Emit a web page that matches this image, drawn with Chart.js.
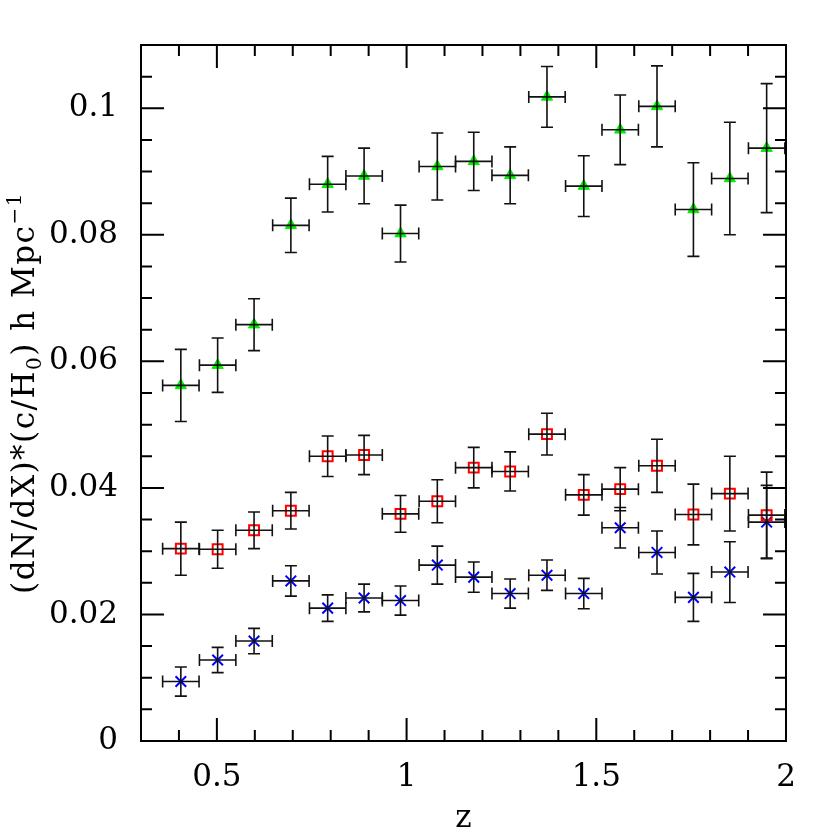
<!DOCTYPE html>
<html>
<head>
<meta charset="utf-8">
<script src="https://cdn.jsdelivr.net/npm/chart.js@4.4.1/dist/chart.umd.min.js"></script>
<style>
  html, body { margin: 0; padding: 0; background: #ffffff; }
  #wrap { width: 830px; height: 830px; }
</style>
</head>
<body>
<div id="wrap"><canvas id="c" width="830" height="830"></canvas></div>
<script>
// ---------- data ----------
const zBins = [0.405, 0.502, 0.598, 0.695, 0.792, 0.888, 0.984, 1.081, 1.177,
               1.273, 1.370, 1.467, 1.563, 1.660, 1.756, 1.852, 1.949];
const zErr = [0.048, 0.048, 0.048, 0.048, 0.048, 0.048, 0.048, 0.048, 0.048,
              0.048, 0.048, 0.048, 0.048, 0.048, 0.048, 0.048, 0.048];

const greenY   = [0.0562, 0.0594, 0.0658, 0.0815, 0.0880, 0.0893, 0.0802, 0.0908, 0.0916,
                  0.0894, 0.1018, 0.0877, 0.0966, 0.1003, 0.0840, 0.0889, 0.0937];
const greenErr = [0.0057, 0.0043, 0.0041, 0.0043, 0.0044, 0.0044, 0.0045, 0.0053, 0.0046,
                  0.0045, 0.0048, 0.0048, 0.0055, 0.0064, 0.0074, 0.0089, 0.0102];

const redY   = [0.0304, 0.0303, 0.0333, 0.0364, 0.0450, 0.0452, 0.0359, 0.0379, 0.0432,
                0.0426, 0.0485, 0.0389, 0.0398, 0.0435, 0.0358, 0.0391, 0.0357];
const redErr = [0.0042, 0.0030, 0.0029, 0.0029, 0.0032, 0.0031, 0.0029, 0.0034, 0.0032,
                0.0031, 0.0033, 0.0032, 0.0034, 0.0042, 0.0048, 0.0059, 0.0068];

const blueY   = [0.0094, 0.0128, 0.0158, 0.0253, 0.0210, 0.0226, 0.0222, 0.0278, 0.0259,
                 0.0233, 0.0262, 0.0233, 0.0337, 0.0298, 0.0227, 0.0267, 0.0346];
const blueErr = [0.0023, 0.0020, 0.0020, 0.0024, 0.0021, 0.0022, 0.0023, 0.0030, 0.0024,
                 0.0023, 0.0024, 0.0024, 0.0032, 0.0034, 0.0038, 0.0048, 0.0058];

const xTickValues = [0.5, 1, 1.5, 2];
const xTickLabels = ['0.5', '1', '1.5', '2'];
const xMinorTicks = [0.4, 0.6, 0.7, 0.8, 0.9, 1.1, 1.2, 1.3, 1.4, 1.6, 1.7, 1.8, 1.9];
const yTickValues = [0, 0.02, 0.04, 0.06, 0.08, 0.1];
const yTickLabels = ['0', '0.02', '0.04', '0.06', '0.08', '0.1'];
const yMinorTicks = [0.005, 0.01, 0.015, 0.025, 0.03, 0.035, 0.045, 0.05, 0.055,
                     0.065, 0.07, 0.075, 0.085, 0.09, 0.095, 0.105];

const xAxisTitle = 'z';
const yTitleParts = [
  { t: '(dN/dX)*(c/H', k: 'n' },
  { t: '0', k: 'sub' },
  { t: ') h Mpc', k: 'n' },
  { t: '\u22121', k: 'sup' }
];

// ---------- helpers ----------
function pts(ys) { return zBins.map((z, i) => ({ x: z, y: ys[i] })); }

const FONT = '"DejaVu Serif", "Liberation Serif", serif';
const FSIZE = 31;

const errorBarPlugin = {
  id: 'errorBars',
  afterDatasetsDraw(chart) {
    const ctx = chart.ctx;
    const xs = chart.scales.x, ys = chart.scales.y;
    const cap = 6;
    ctx.save();
    ctx.strokeStyle = '#111111';
    ctx.lineWidth = 1.6;
    chart.data.datasets.forEach(ds => {
      ds.data.forEach((p, i) => {
        const px = xs.getPixelForValue(p.x);
        const py = ys.getPixelForValue(p.y);
        const x0 = xs.getPixelForValue(p.x - ds.xErr[i]);
        const x1 = xs.getPixelForValue(p.x + ds.xErr[i]);
        const y0 = ys.getPixelForValue(p.y - ds.yErr[i]);
        const y1 = ys.getPixelForValue(p.y + ds.yErr[i]);
        ctx.beginPath();
        ctx.moveTo(x0, py); ctx.lineTo(x1, py);
        ctx.moveTo(x0, py - cap); ctx.lineTo(x0, py + cap);
        ctx.moveTo(x1, py - cap); ctx.lineTo(x1, py + cap);
        ctx.moveTo(px, y0); ctx.lineTo(px, y1);
        ctx.moveTo(px - cap, y0); ctx.lineTo(px + cap, y0);
        ctx.moveTo(px - cap, y1); ctx.lineTo(px + cap, y1);
        ctx.stroke();
      });
    });
    ctx.restore();
  }
};

const framePlugin = {
  id: 'frame',
  beforeDraw(chart) {
    const ctx = chart.ctx;
    ctx.save();
    ctx.fillStyle = '#ffffff';
    ctx.fillRect(0, 0, chart.width, chart.height);
    ctx.restore();
  },
  afterDraw(chart) {
    const ctx = chart.ctx;
    const a = chart.chartArea;
    const xs = chart.scales.x, ys = chart.scales.y;
    const major = 23, minor = 11;
    ctx.save();
    ctx.strokeStyle = '#000000';
    ctx.lineWidth = 2;
    ctx.beginPath();
    ctx.rect(a.left, a.top, a.right - a.left, a.bottom - a.top);
    ctx.stroke();
    ctx.beginPath();
    const xt = (v, len) => {
      const p = xs.getPixelForValue(v);
      ctx.moveTo(p, a.bottom); ctx.lineTo(p, a.bottom - len);
      ctx.moveTo(p, a.top); ctx.lineTo(p, a.top + len);
    };
    const yt = (v, len) => {
      const p = ys.getPixelForValue(v);
      ctx.moveTo(a.left, p); ctx.lineTo(a.left + len, p);
      ctx.moveTo(a.right, p); ctx.lineTo(a.right - len, p);
    };
    xTickValues.forEach(v => xt(v, major));
    xMinorTicks.forEach(v => xt(v, minor));
    yTickValues.forEach(v => yt(v, major));
    yMinorTicks.forEach(v => yt(v, minor));
    ctx.stroke();

    // x axis title
    ctx.fillStyle = '#000000';
    ctx.font = FSIZE + 'px ' + FONT;
    ctx.textAlign = 'center';
    ctx.textBaseline = 'alphabetic';
    ctx.fillText(xAxisTitle, (a.left + a.right) / 2, 827);

    // y axis title (rotated, with sub/superscript)
    const subSize = Math.round(FSIZE * 0.65);
    const spacing = 1.5;
    const segFont = k => (k === 'n' ? FSIZE : subSize) + 'px ' + FONT;
    ctx.letterSpacing = spacing + 'px';
    let total = 0;
    yTitleParts.forEach(s => { ctx.font = segFont(s.k); s.w = ctx.measureText(s.t).width; total += s.w; });
    ctx.translate(34, (a.top + a.bottom) / 2);
    ctx.rotate(-Math.PI / 2);
    ctx.textAlign = 'left';
    let cx = -total / 2;
    yTitleParts.forEach(s => {
      ctx.font = segFont(s.k);
      const dy = s.k === 'sub' ? 7 : (s.k === 'sup' ? -13 : 0);
      ctx.fillText(s.t, cx, dy);
      cx += s.w;
    });
    ctx.restore();
  }
};

new Chart(document.getElementById('c'), {
  type: 'scatter',
  data: {
    datasets: [
      {
        label: 'triangles',
        data: pts(greenY), xErr: zErr, yErr: greenErr,
        pointStyle: 'triangle', pointRadius: 6.5,
        backgroundColor: '#00ee00', borderColor: '#00ee00', borderWidth: 1
      },
      {
        label: 'squares',
        data: pts(redY), xErr: zErr, yErr: redErr,
        pointStyle: 'rect', pointRadius: 7,
        backgroundColor: 'rgba(0,0,0,0)', borderColor: '#ff0000', borderWidth: 2
      },
      {
        label: 'crosses',
        data: pts(blueY), xErr: zErr, yErr: blueErr,
        pointStyle: 'crossRot', pointRadius: 7.5,
        backgroundColor: '#0000ff', borderColor: '#0000ff', borderWidth: 2
      }
    ]
  },
  options: {
    responsive: false,
    devicePixelRatio: 1,
    animation: false,
    events: [],
    layout: { padding: { left: 0, right: 44, top: 45, bottom: 0 } },
    plugins: { legend: { display: false }, tooltip: { enabled: false } },
    scales: {
      x: {
        type: 'linear', min: 0.3, max: 2.0,
        grid: { display: false, drawTicks: false },
        border: { display: false },
        afterBuildTicks: s => { s.ticks = xTickValues.map(v => ({ value: v })); },
        afterFit: s => { s.height = 89; },
        ticks: {
          padding: 18, color: '#000000', maxRotation: 0, autoSkip: false,
          font: { family: FONT, size: FSIZE },
          callback: (v, i) => xTickLabels[i]
        }
      },
      y: {
        type: 'linear', min: 0, max: 0.11,
        grid: { display: false, drawTicks: false },
        border: { display: false },
        afterBuildTicks: s => { s.ticks = yTickValues.map(v => ({ value: v })); },
        afterFit: s => { s.width = 141; },
        ticks: {
          padding: 23, color: '#000000', autoSkip: false,
          font: { family: FONT, size: FSIZE },
          callback: (v, i) => yTickLabels[i]
        }
      }
    }
  },
  plugins: [framePlugin, errorBarPlugin]
});
</script>
</body>
</html>
